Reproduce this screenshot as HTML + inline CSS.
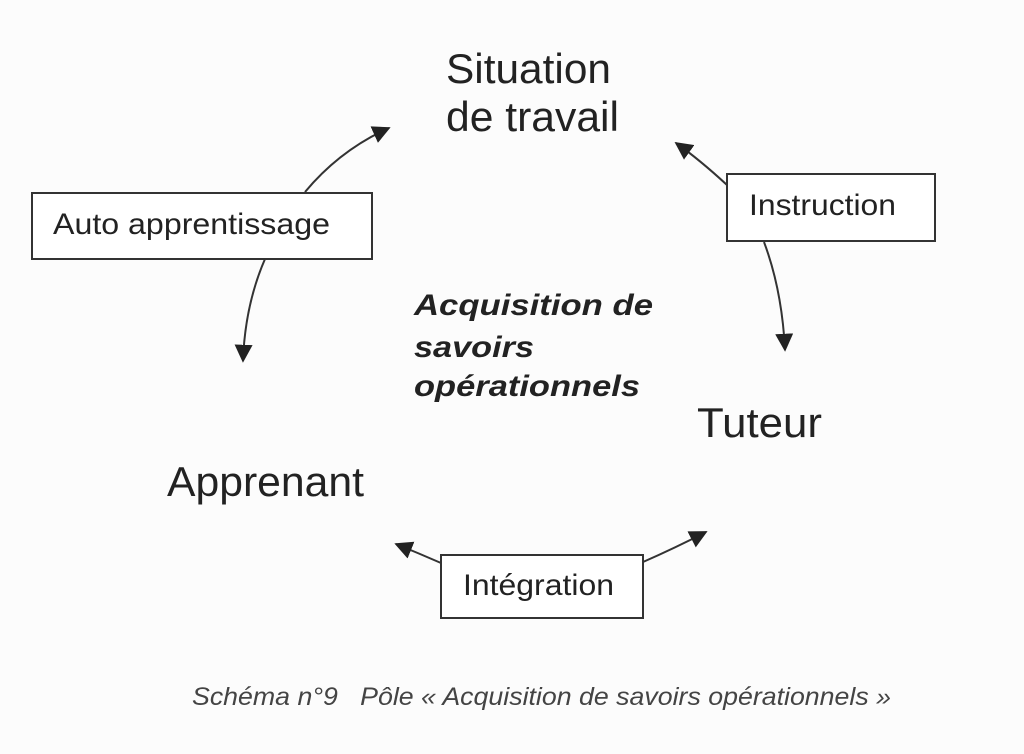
<!DOCTYPE html>
<html><head><meta charset="utf-8"><style>
html,body{margin:0;padding:0;background:#fcfcfc;}
svg{display:block;}
text{font-family:"Liberation Sans",sans-serif;fill:#222;white-space:pre;}
</style></head><body>
<svg width="1024" height="754" viewBox="0 0 1024 754" xmlns="http://www.w3.org/2000/svg">
<defs>
<marker id="ah" viewBox="0 0 10 10" refX="9" refY="5" markerWidth="18" markerHeight="18" markerUnits="userSpaceOnUse" orient="auto">
<path d="M0,0 L10,5 L0,10 z" fill="#222"/>
</marker>
</defs>
<rect width="1024" height="754" fill="#fcfcfc"/>
<g fill="none" stroke="#333" stroke-width="2">
<path d="M305,192 Q340,150 389,128" marker-end="url(#ah)"/>
<path d="M265,259 Q245,305 243,361" marker-end="url(#ah)"/>
<path d="M727,185 Q700,160 676,143" marker-end="url(#ah)"/>
<path d="M764,242 Q782,290 785,350" marker-end="url(#ah)"/>
<path d="M441,563 Q418,553 396,544" marker-end="url(#ah)"/>
<path d="M643,562 Q675,548 706,532" marker-end="url(#ah)"/>
</g>
<g fill="#fff" stroke="#333" stroke-width="2">
<rect x="32" y="193" width="340" height="66"/>
<rect x="727" y="174" width="208" height="67"/>
<rect x="441" y="555" width="202" height="63"/>
</g>
<text x="446" y="83" font-size="42" textLength="165" lengthAdjust="spacingAndGlyphs">Situation</text>
<text x="446" y="131" font-size="42" textLength="173" lengthAdjust="spacingAndGlyphs">de travail</text>
<text x="53" y="234" font-size="30" textLength="277" lengthAdjust="spacingAndGlyphs">Auto apprentissage</text>
<text x="749" y="215" font-size="30" textLength="147" lengthAdjust="spacingAndGlyphs">Instruction</text>
<text x="463" y="595" font-size="30" textLength="151" lengthAdjust="spacingAndGlyphs">Intégration</text>
<g font-weight="bold" font-style="italic" font-size="30">
<text x="414" y="315" textLength="239" lengthAdjust="spacingAndGlyphs">Acquisition de</text>
<text x="414" y="357" textLength="120" lengthAdjust="spacingAndGlyphs">savoirs</text>
<text x="414" y="396" textLength="226" lengthAdjust="spacingAndGlyphs">opérationnels</text>
</g>
<text x="697" y="437" font-size="42" textLength="125" lengthAdjust="spacingAndGlyphs">Tuteur</text>
<text x="167" y="496" font-size="42" textLength="197" lengthAdjust="spacingAndGlyphs">Apprenant</text>
<text x="192" y="705" font-size="25" font-style="italic" style="fill:#444" textLength="699" lengthAdjust="spacingAndGlyphs" xml:space="preserve">Schéma n°9   Pôle « Acquisition de savoirs opérationnels »</text>
</svg>
</body></html>
